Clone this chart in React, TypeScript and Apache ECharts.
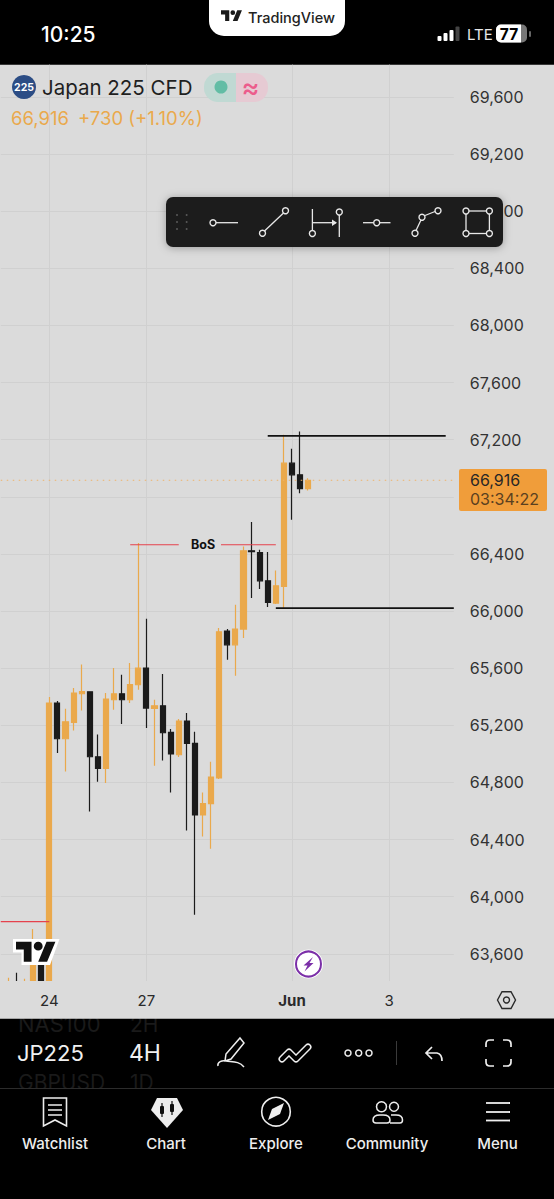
import React, { useEffect, useRef } from "react";
import * as echarts from "echarts";

const FONT = "Inter, 'Noto Sans', sans-serif";
const ORANGE = "#eaa94c";
const DARK = "#1b1b1b";
const BG = "#dbdbdb";
const GRID = "#d0d0d0";
const RED = "#e5424d";

const dayLabels: Record<number, string> = { 6: "24", 18: "27", 36: "Jun", 48: "3" };
const slotCount = 57;

// candle values, one per 4H slot, from slot 0
const opens = [null, 63230, 63300, 63230, 63250, 63600, 63300, 65356, 65106, 65220, 65421, 65435, 64980, 64898, 65379, 65421, 65379, 65484, 65601, 65318, 65337, 65150, 64994, 65230, 65073, 64572, 64651, 64831, 65860, 65764, 65874, 66422, 66410, 66212, 66056, 66172, 67036, 66954, 66858];
const closes = [null, 63250, 63230, 63300, 63690, 63300, 65356, 65106, 65225, 65426, 65437, 64980, 64898, 65384, 65421, 65379, 65486, 65601, 65321, 65337, 65148, 64999, 65230, 65073, 64572, 64651, 64838, 65855, 65764, 65874, 66422, 66417, 66212, 66060, 66177, 67036, 66954, 66858, 66916];
const lows = [null, 63210, 63210, 63210, 63210, 63250, 63250, 65006, 64877, 65164, 65304, 64597, 64805, 64796, 65309, 65209, 65356, 65449, 65181, 64917, 64954, 64730, 64978, 64464, 63874, 64422, 64336, 64824, 65659, 65547, 65811, 66091, 66154, 66028, 66049, 66021, 66639, 66826, 66844];
const highs = [null, 63433, 63468, 63426, 63774, 63650, 65398, 65370, 65316, 65461, 65626, 65437, 65136, 65426, 65601, 65554, 65636, 66476, 65946, 65379, 65559, 65174, 65244, 65286, 65155, 64730, 64945, 65881, 65874, 66044, 66452, 66623, 66429, 66413, 66284, 67234, 67136, 67257, 66931];

const lastPrice = 66916;
const bosLevel = 66464;
const redLevel = 63825;
const swingHigh = 67227;
const swingLow = 66021;
const yMin = 63200;
const yMax = 70000;
const yStep = 400;
const tickHiddenByPriceTag = 66800;

const categories = Array.from({ length: slotCount }, (_, i) => String(i));
const candleData = opens.map((o, i) => (o === null ? ["-", "-", "-", "-"] : [o, closes[i], lows[i], highs[i]]));

const shapes: Record<string, string> = {
  tvLogo: "M14 22H7V11H0V4h14v18zM28 22h-8l7.5-18h8L28 22zM24 8a4 4 0 1 1-8 0a4 4 0 1 1 8 0z",
  pen: "M240 1038 L244 1043 L231 1059 L225 1061 L226 1054 Z M218 1066 C217 1062 222 1060 226 1061 C233 1062 239 1061 244 1067",
  wave: "M282 1059 L289 1052 L296 1059 L308 1047",
  undo: "M432 1047 L426 1053 L432 1059 M426 1053 L437 1053 Q442 1054 442 1061",
  full: "M486 1047 V1044 Q486 1040 490 1040 H494 M503 1040 H507 Q511 1040 511 1044 V1047 M511 1059 V1062 Q511 1066 507 1066 H503 M494 1066 H490 Q486 1066 486 1062 V1059",
  bookmark: "M43.5 1098 H66.5 V1126 L55 1120 L43.5 1126 Z M48 1105 H62 M48 1110 H62 M48 1115 H62",
  gem: "M157 1098 H177 L183 1110 L167 1128 L151 1110 Z",
  needle: "M284 1103 L280 1114 L268 1120 L272 1109 Z",
  people: "M373 1120 Q373 1115 380 1115 H383 Q390 1115 390 1120 Q390 1123 387 1123 H376 Q373 1123 373 1120 Z M391 1115 H396 Q402.5 1115 402.5 1120 Q402.5 1123 400 1123 H390",
};
Object.keys(shapes).forEach((k) => {
  echarts.graphic.registerShape(k, echarts.graphic.extendPath(shapes[k], {}) as any);
});

const text = (x: number, y: number, t: string, size: number, fill: string, extra: any = {}, z = 10) => ({
  type: "text", x, y, z, silent: true,
  style: { text: t, fontSize: size, fontFamily: FONT, fill, textVerticalAlign: "middle", verticalAlign: "middle", ...extra },
});
const line = (x1: number, y1: number, x2: number, y2: number, stroke = "#fff", w = 1.5, z = 10) => ({
  type: "line", z, silent: true, shape: { x1, y1, x2, y2 }, style: { stroke, lineWidth: w },
});
const ring = (cx: number, cy: number, r: number, stroke = "#fff", w = 1.4, fill: any = "none", z = 11) => ({
  type: "circle", z, silent: true, shape: { cx, cy, r }, style: { stroke, lineWidth: w, fill },
});
const box = (x: number, y: number, width: number, height: number, fill: string, r: any = 0, z = 10, extra: any = {}) => ({
  type: "rect", z, silent: true, shape: { x, y, width, height, r }, style: { fill, ...extra },
});
const path = (type: string, style: any, z = 10, extra: any = {}) => ({ type, z, silent: true, style, ...extra });

const tool = "#e8e8e8";

const graphics: any[] = [
  // layer under the plot
  text(18, 1024, "NAS100", 22, "#1a1a1a", {}, -3),
  text(130, 1024, "2H", 21, "#1a1a1a", {}, -3),
  text(18, 1082, "GBPUSD", 21, "#1a1a1a", {}, -3),
  text(130, 1082, "1D", 21, "#1a1a1a", {}, -3),
  box(0, 64.5, 554, 954, BG, 0, -1),
  box(0, 1089, 554, 110, "#000", 0, -1),
  line(0, 1088.5, 554, 1088.5, "#2c2c2c", 1, 0),
  // masks that end the plot where the screen's chart pane ends
  box(0, 0, 554, 64.5, "#000", 0, 5),
  box(0, 981, 460, 37.5, BG, 0, 5),

  // status bar
  text(41, 34, "10:25", 21, "#fff", { fontWeight: 500 }),
  box(209, -20, 136, 56, "#fff", 15),
  path("tvLogo", { fill: "#1a1a1a" }, 11, { x: 221, y: 8, scaleX: 0.59, scaleY: 0.59 }),
  text(248, 17, "TradingView", 14.5, "#222", { fontWeight: 500 }),
  box(437.5, 36, 4, 5, "#fff", 1),
  box(443.5, 33, 4, 8, "#fff", 1),
  box(449.5, 30, 4, 11, "#fff", 1),
  box(455.5, 26.5, 4, 14.5, "#444", 1),
  text(467, 34.5, "LTE", 15, "#e8e8e8"),
  box(496, 24.5, 31, 18, "#777", 5),
  box(496, 24.5, 25, 18, "#fff", [5, 0, 0, 5]),
  box(529, 31, 2, 6, "#666", 1),
  text(509, 34, "77", 15.5, "#000", { fontWeight: 700, textAlign: "center", align: "center" }),

  // legend
  { type: "circle", z: 10, silent: true, shape: { cx: 24, cy: 87, r: 12 }, style: { fill: "#2c4d85" } },
  text(24, 87.5, "225", 10.5, "#fff", { fontWeight: 700, align: "center" }, 11),
  text(42, 87, "Japan 225 CFD", 20.5, "#1f1f1f"),
  text(11, 118, "66,916", 18.5, ORANGE),
  text(78, 118, "+730 (+1.10%)", 18.5, ORANGE),
  box(204, 73, 32, 29, "#c0d9d3", [14, 0, 0, 14]),
  box(236, 73, 32, 29, "#e6cad3", [0, 14, 14, 0]),
  { type: "circle", z: 11, silent: true, shape: { cx: 221, cy: 87, r: 6.5 }, style: { fill: "#62bda5" } },
  text(250.5, 87, "≈", 27, "#ec5c8c", { fontWeight: 500, align: "center" }, 11),

  // drawing toolbar
  box(166, 197, 337, 50, "#1e1e1e", 7, 10, { shadowBlur: 8, shadowColor: "rgba(0,0,0,0.3)", shadowOffsetY: 1 }),
  ...[177, 186.6].flatMap((x) => [215, 222, 229].map((y) => box(x - 1, y - 1, 2, 2, "#5a5a5a", 1, 11))),
  line(216, 222.7, 238, 222.7, tool, 1.3, 11), ring(213, 222.7, 3, tool),
  line(264.5, 231, 283.5, 213, tool, 1.3, 11), ring(262.5, 233.3, 3, tool), ring(285.5, 210.7, 3, tool),
  line(312.4, 209, 312.4, 230.5, tool, 1.3, 11), ring(312.4, 233.5, 3, tool),
  line(312.4, 222.7, 336, 222.7, tool, 1.3, 11),
  { type: "polygon", z: 11, silent: true, shape: { points: [[332, 219.5], [337, 222.7], [332, 226]] }, style: { fill: tool } },
  line(339.3, 215, 339.3, 237, tool, 1.3, 11), ring(339.3, 212, 3, tool),
  line(363, 222.7, 373.7, 222.7, tool, 1.3, 11), line(379.7, 222.7, 390.5, 222.7, tool, 1.3, 11), ring(376.7, 222.7, 3, tool),
  { type: "polyline", z: 11, silent: true, shape: { points: [[416, 230.5], [421, 220]] }, style: { stroke: tool, lineWidth: 1.3, fill: "none" } },
  { type: "polyline", z: 11, silent: true, shape: { points: [[425, 215.5], [435, 211.5]] }, style: { stroke: tool, lineWidth: 1.3, fill: "none" } },
  ring(415, 233.3, 3, tool), ring(422, 217.3, 3, tool), ring(438, 210.7, 3, tool),
  line(469, 211, 486.4, 211, tool, 1.3, 11), line(469, 233.5, 486.4, 233.5, tool, 1.3, 11),
  line(466, 214, 466, 230.5, tool, 1.3, 11), line(489.4, 214, 489.4, 230.5, tool, 1.3, 11),
  ring(466, 211, 3, tool), ring(489.4, 211, 3, tool), ring(466, 233.5, 3, tool), ring(489.4, 233.5, 3, tool),

  // last price tag
  box(459, 469, 88, 42, "#f09d3a", 2),
  text(470, 479.5, "66,916", 16, "#262626", { lineHeight: 16 }),
  text(470, 498.5, "03:34:22", 16, "#5a4020", { lineHeight: 16 }),

  // watermark
  { type: "polygon", z: 12, silent: true, shape: { points: [[13, 939], [59.5, 939], [50, 965], [21.5, 965], [21.5, 952.5], [13, 952.5]] }, style: { fill: "#fff" } },
  path("tvLogo", { fill: "#111" }, 13, { x: 16, y: 937.3, scaleX: 1.11, scaleY: 1.11 }),

  // lightning badge
  { type: "circle", z: 10, silent: true, shape: { cx: 308.5, cy: 964, r: 14.5 }, style: { fill: "#fff" } },
  ring(308.5, 964, 12.5, "#7b2fa8", 2),
  { type: "polygon", z: 11, silent: true, shape: { points: [[313, 957], [303.5, 965.5], [307.5, 965.5], [304.5, 971.5], [313.5, 963], [309.5, 963]] }, style: { fill: "#7b2fa8" } },

  // settings hexagon
  { type: "polygon", z: 10, silent: true, shape: { points: [[497.5, 1000], [502, 991.7], [511, 991.7], [515.5, 1000], [511, 1008.5], [502, 1008.5]] }, style: { fill: "none", stroke: "#2a2a2a", lineWidth: 1.4 } },
  ring(506.5, 1000, 3, "#2a2a2a", 1.4),

  // symbol row
  text(17, 1053, "JP225", 22, "#f0f0f0"),
  text(129, 1053, "4H", 23, "#f0f0f0"),
  path("pen", { stroke: "#eee", lineWidth: 1.5, fill: "none" }),
  path("wave", { stroke: "#eee", lineWidth: 7, fill: "none", lineCap: "round", lineJoin: "round" }),
  path("wave", { stroke: "#000", lineWidth: 4, fill: "none", lineCap: "round", lineJoin: "round" }, 11),
  ring(348, 1053, 3, "#eee", 1.5), ring(358.7, 1053, 3, "#eee", 1.5), ring(369, 1053, 3, "#eee", 1.5),
  line(396.5, 1041, 396.5, 1065, "#3a3a3a", 1),
  path("undo", { stroke: "#eee", lineWidth: 1.7, fill: "none" }),
  path("full", { stroke: "#eee", lineWidth: 1.7, fill: "none" }),

  // bottom navigation
  path("bookmark", { stroke: "#eee", lineWidth: 1.6, fill: "none" }),
  path("gem", { fill: "#eee" }),
  box(160, 1106, 4, 8, "#111", 1, 11), line(162, 1103, 162, 1117, "#111", 1.2, 11),
  box(170, 1104, 4, 8, "#111", 1, 11), line(172, 1101, 172, 1115, "#111", 1.2, 11),
  ring(276, 1111.7, 14.3, "#eee", 1.6),
  path("needle", { fill: "#eee" }),
  ring(381.5, 1106.7, 5, "#eee", 1.5), ring(394, 1106.7, 4.5, "#eee", 1.5),
  path("people", { stroke: "#eee", lineWidth: 1.5, fill: "none" }),
  line(486, 1103, 510, 1103, "#eee", 1.8), line(486, 1112, 510, 1112, "#eee", 1.8), line(486, 1120.5, 510, 1120.5, "#eee", 1.8),
  text(55, 1143, "Watchlist", 15, "#eee", { fontWeight: 500, align: "center" }),
  text(166, 1143, "Chart", 15, "#eee", { fontWeight: 500, align: "center" }),
  text(276, 1143, "Explore", 15, "#eee", { fontWeight: 500, align: "center" }),
  text(387, 1143, "Community", 15, "#eee", { fontWeight: 500, align: "center" }),
  text(497.5, 1143, "Menu", 15, "#eee", { fontWeight: 500, align: "center" }),
];

const level = (name: string, from: number, to: number, value: number, color: string, width: number, type: any = "solid", extra: any = {}) => ({
  name,
  type: "line",
  data: [[from, value], [to, value]],
  symbol: "none",
  silent: true,
  z: 4,
  lineStyle: { color, width, type },
  ...extra,
});

export default function App() {
  const ref = useRef<HTMLDivElement>(null);
  useEffect(() => {
    document.body.style.margin = "0";
    document.body.style.background = "#000";
    const chart = echarts.init(ref.current!, null, { renderer: "svg" });
    chart.setOption({
      animation: false,
      backgroundColor: "#000",
      textStyle: { fontFamily: FONT },
      grid: { left: 0.76, top: 39.88, width: 8.09 * (slotCount - 1), height: 971.04, containLabel: false },
      xAxis: [
        {
          type: "category",
          data: categories,
          boundaryGap: false,
          z: 0,
          axisLine: { show: false },
          axisTick: { show: false },
          axisLabel: { show: false },
          splitLine: { show: true, interval: (i: number) => dayLabels[i] !== undefined, lineStyle: { color: GRID, width: 1 } },
        },
        {
          type: "category",
          data: categories,
          boundaryGap: false,
          position: "bottom",
          z: 6,
          axisLine: { show: false },
          axisTick: { show: false },
          splitLine: { show: false },
          axisLabel: {
            inside: true,
            interval: (i: number) => dayLabels[i] !== undefined,
            formatter: (_: string, i: number) => {
              const t = dayLabels[i] ?? "";
              return t === "Jun" ? `{b|${t}}` : t;
            },
            color: "#2a2a2a",
            fontSize: 15,
            fontFamily: FONT,
            margin: 3,
            rich: { b: { fontWeight: 700, fontSize: 15, color: "#2a2a2a", fontFamily: FONT } },
          },
        },
      ],
      yAxis: {
        type: "value",
        position: "right",
        min: yMin,
        max: yMax,
        interval: yStep,
        scale: true,
        axisLine: { show: false },
        axisTick: { show: false },
        splitLine: { show: true, lineStyle: { color: GRID, width: 1 } },
        axisLabel: {
          showMinLabel: false,
          showMaxLabel: false,
          align: "left",
          margin: 16,
          color: "#333",
          fontSize: 16,
          fontFamily: FONT,
          formatter: (v: number) => (v === tickHiddenByPriceTag ? "" : v.toLocaleString("en-US")),
        },
      },
      series: [
        {
          name: "JP225",
          type: "candlestick",
          data: candleData,
          barWidth: 5.6,
          clip: true,
          z: 3,
          itemStyle: { color: ORANGE, color0: DARK, borderColor: ORANGE, borderColor0: DARK, borderWidth: 1.2 },
        },
        level("Last", 0, slotCount - 1, lastPrice, "#efb36a", 1, [1.5, 4.5]),
        level("BoS", 16, 22, bosLevel, RED, 1.1),
        level("BoS right", 27, 34, bosLevel, RED, 1.1, "solid", {
          markPoint: {
            silent: true,
            symbol: "rect",
            symbolSize: [36, 14],
            itemStyle: { color: BG },
            data: [{ coord: [25, bosLevel], value: "BoS" }],
            label: {
              show: true,
              position: "inside",
              formatter: "BoS",
              fontSize: 12.5,
              fontWeight: 700,
              fontFamily: FONT,
              color: "#111",
            },
          },
        }),
        level("Prior", 0, 6, redLevel, RED, 1.1),
        level("Swing high", 33, 55, swingHigh, "#111", 1.6),
        level("Swing low", 34, 56, swingLow, "#111", 1.6),
      ],
      graphic: { elements: graphics },
    });
    return () => chart.dispose();
  }, []);
  return <div ref={ref} style={{ width: 554, height: 1199 }} />;
}
